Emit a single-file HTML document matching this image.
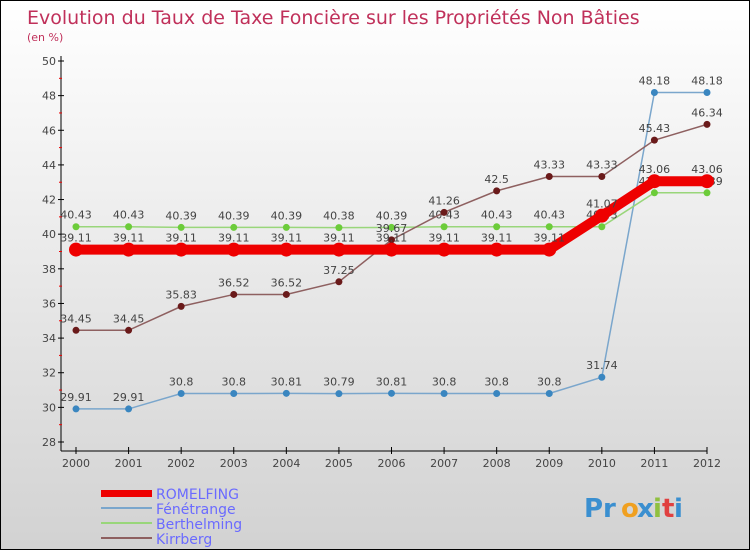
<!DOCTYPE html>
<html><head><meta charset="utf-8"><style>
body{margin:0;}
#c{position:relative;width:748px;height:548px;border:1px solid #000;background:linear-gradient(#ffffff,#d2d2d2);font-family:"DejaVu Sans","Liberation Sans",sans-serif;overflow:hidden}
</style></head><body>
<div id="c">
<svg id="s" width="748" height="548" xmlns="http://www.w3.org/2000/svg">
<text x="26" y="23" font-size="19" fill="#c0305a">Evolution du Taux de Taxe Foncière sur les Propriétés Non Bâties</text>
<text x="26" y="40" font-size="11" fill="#c0305a">(en %)</text>
<g id="grid"></g><g id="axes"></g><g id="series"></g>
<g>
<rect x="100" y="489" width="51" height="7" fill="#e00"/>
<text x="155" y="498" font-size="14" fill="#6a6aff">ROMELFING</text>
<rect x="100" y="506" width="51" height="2" fill="#7aa6cc"/>
<text x="155" y="513" font-size="14" fill="#6a6aff">Fénétrange</text>
<rect x="100" y="521" width="51" height="2" fill="#99d67a"/>
<text x="155" y="528" font-size="14" fill="#6a6aff">Berthelming</text>
<rect x="100" y="536" width="51" height="2" fill="#8e6060"/>
<text x="155" y="543" font-size="14" fill="#6a6aff">Kirrberg</text>
</g>
<g font-size="26" font-weight="bold">
<text x="583" y="516" fill="#3a8fd0">Pr</text><text x="620" y="516" fill="#f0a020">o</text><text x="636" y="516" fill="#3a8fd0">x</text><text x="652" y="516" fill="#90c040">i</text><text x="661" y="516" fill="#e04040">t</text><text x="673" y="516" fill="#3a8fd0">i</text>
</g>
</svg>
</div>
<script>
const years=[2000,2001,2002,2003,2004,2005,2006,2007,2008,2009,2010,2011,2012];
const yTicks=[28,30,32,34,36,38,40,42,44,46,48,50];
const romelfing=[39.11,39.11,39.11,39.11,39.11,39.11,39.11,39.11,39.11,39.11,41.07,43.06,43.06];
const fenetrange=[29.91,29.91,30.8,30.8,30.81,30.79,30.81,30.8,30.8,30.8,31.74,48.18,48.18];
const berthelming=[40.43,40.43,40.39,40.39,40.39,40.38,40.39,40.43,40.43,40.43,40.43,42.39,42.39];
const kirrberg=[34.45,34.45,35.83,36.52,36.52,37.25,39.67,41.26,42.5,43.33,43.33,45.43,46.34];
const NS="http://www.w3.org/2000/svg";
const x=i=>75+i*(631/12);
const y=v=>441-(v-28)*(381/22);
function mk(t,a,p){const e=document.createElementNS(NS,t);for(const k in a)e.setAttribute(k,a[k]);p.appendChild(e);return e;}
const axes=document.getElementById('axes');
const ax=mk('line',{x1:60,y1:55,x2:60,y2:450,stroke:'#000'},axes);


const xl=mk('line',{x1:60,y1:450,x2:706,y2:450,stroke:'#000'},axes);


yTicks.forEach(v=>{
 mk('line',{x1:57,y1:y(v),x2:63,y2:y(v),stroke:'#000'},axes);
 if(v<50)mk('line',{x1:58,y1:y(v+1),x2:61,y2:y(v+1),stroke:'#e00'},axes);
 const t=mk('text',{x:55,y:y(v)+4,'font-size':11,fill:'#444','text-anchor':'end'},axes);
 t.textContent=v;
 
 
});
years.forEach((yr,i)=>{
 mk('line',{x1:x(i),y1:446,x2:x(i),y2:453,stroke:'#000'},axes);
 const t=mk('text',{x:x(i),y:466,'font-size':11,fill:'#444','text-anchor':'middle'},axes);
 t.textContent=yr;
 
 
});
const sg=document.getElementById('series');
function series(name,data,color,w,ptc,r){
 const g=mk('g',{},sg);
 
 
 const pl=mk('polyline',{points:data.map((v,i)=>x(i)+','+y(v)).join(' '),fill:'none',stroke:color,'stroke-width':w},g);
 
 
 data.forEach((v,i)=>{
  const c=mk('circle',{cx:x(i),cy:y(v),r:r,fill:ptc},g);
  
  
  const t=mk('text',{x:x(i),y:y(v)-8,'font-size':11,fill:'#444','text-anchor':'middle'},g);
  t.textContent=v;
  
  
 });
}
series('fenetrange',fenetrange,'#7aa6cc',1.5,'#3a86c0',3.5);
series('berthelming',berthelming,'#99d67a',1.5,'#6ccc3a',3.5);
series('kirrberg',kirrberg,'#8e6060',1.5,'#6a1a1a',3.5);
series('romelfing',romelfing,'#e00',10,'#e00',7);
</script>
</body></html>
